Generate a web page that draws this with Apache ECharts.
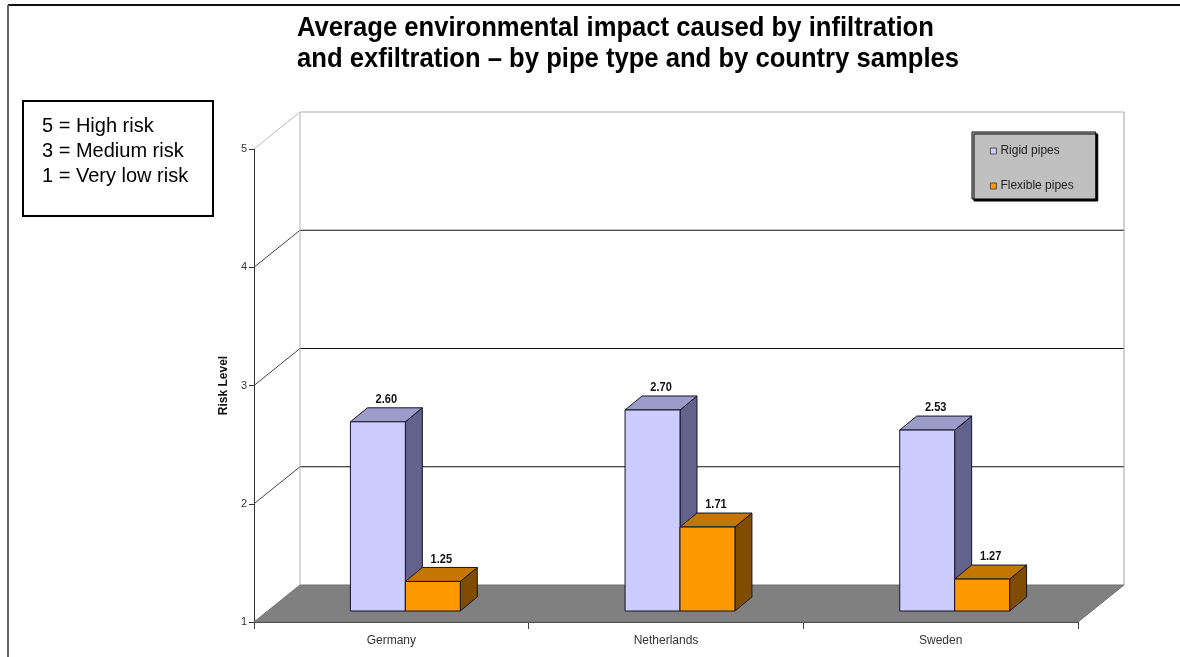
<!DOCTYPE html>
<html>
<head>
<meta charset="utf-8">
<script src="https://cdn.jsdelivr.net/npm/echarts@6/dist/echarts.min.js"></script>
<style>
  html, body { margin: 0; padding: 0; background: #fff; }
  #chart { width: 1180px; height: 657px; }
</style>
</head>
<body>
<div id="chart"></div>
<script>
// Countries on the category axis
const countries = ['Germany', 'Netherlands', 'Sweden'];
// Average risk level per pipe type
const rigidPipes = [2.60, 2.70, 2.53];
const flexiblePipes = [1.25, 1.71, 1.27];
// Risk scale ticks
const riskTicks = [1, 2, 3, 4, 5];
const titleLines = [
  'Average environmental impact caused by infiltration',
  'and exfiltration \u2013 by pipe type and by country samples'
];
const keyLines = ['5 = High risk', '3 = Medium risk', '1 = Very low risk'];

const FONT = "'Liberation Sans', Arial, Helvetica, sans-serif";
const NARROW = "'Liberation Sans Narrow', 'Liberation Sans', Arial, sans-serif";

// Oblique depth of the back wall and of the bar row
const WALL_DX = 46, WALL_DY = -37;
const ROW_DX = 14, ROW_DY = -11;
const BAR_DX = 17, BAR_DY = -14;

const chart = echarts.init(document.getElementById('chart'), null, { renderer: 'canvas' });

// Back wall, gridlines and floor of the 3D plot box
function renderWall(params, api) {
  const cs = params.coordSys;
  const v = api.value(0);
  const p = api.coord([0, v]);
  const x0 = cs.x, y = p[1];
  const bx = x0 + WALL_DX, by = y + WALL_DY;
  const children = [];
  if (v === riskTicks[0]) {
    children.push({
      type: 'polygon',
      shape: { points: [[x0, y], [x0 + cs.width, y], [bx + cs.width, by], [bx, by]] },
      style: { fill: '#808080', stroke: '#707070', lineWidth: 1 }
    });
  } else {
    const top = v === riskTicks[riskTicks.length - 1];
    children.push({
      type: 'line',
      shape: { x1: x0, y1: y, x2: bx, y2: by },
      style: { stroke: top ? '#b8b8b8' : '#444', lineWidth: 1 }
    });
    children.push({
      type: 'line',
      shape: { x1: bx, y1: by, x2: bx + cs.width, y2: by },
      style: { stroke: top ? '#b0b0b0' : '#111', lineWidth: 1 }
    });
    if (top) {
      const floorY = api.coord([0, riskTicks[0]])[1] + WALL_DY;
      children.push({
        type: 'line',
        shape: { x1: bx, y1: by, x2: bx, y2: floorY },
        style: { stroke: '#b0b0b0', lineWidth: 1 }
      });
      children.push({
        type: 'line',
        shape: { x1: bx + cs.width, y1: by, x2: bx + cs.width, y2: floorY },
        style: { stroke: '#a0a0a0', lineWidth: 1 }
      });
    }
  }
  return { type: 'group', children: children };
}

// Oblique 3D box for one bar, with its value above the top face
function makeBarRenderer(side, colors) {
  return function (params, api) {
    const c = api.value(0), v = api.value(1);
    const band = api.size([1, 0])[0];
    const bw = band * 0.2;
    const base = api.coord([c, riskTicks[0]]);
    const top = api.coord([c, v]);
    const xL = base[0] + ROW_DX + (side < 0 ? -bw : 0);
    const xR = xL + bw;
    const yB = base[1] + ROW_DY;
    const yT = top[1] + ROW_DY;
    const edge = { stroke: '#141428', lineWidth: 1 };
    return {
      type: 'group',
      children: [
        { type: 'polygon', shape: { points: [[xR, yB], [xR + BAR_DX, yB + BAR_DY], [xR + BAR_DX, yT + BAR_DY], [xR, yT]] },
          style: Object.assign({ fill: colors.side }, edge) },
        { type: 'polygon', shape: { points: [[xL, yT], [xR, yT], [xR + BAR_DX, yT + BAR_DY], [xL + BAR_DX, yT + BAR_DY]] },
          style: Object.assign({ fill: colors.top }, edge) },
        { type: 'rect', shape: { x: xL, y: yT, width: bw, height: yB - yT },
          style: Object.assign({ fill: colors.front }, edge) },
        { type: 'text', x: (xL + xR + BAR_DX) / 2, y: yT + BAR_DY - 2,
          scaleX: 0.92, scaleY: 1.05,
          style: { text: v.toFixed(2), fill: '#111', font: 'bold 12px ' + NARROW,
                   align: 'center', verticalAlign: 'bottom' } }
      ]
    };
  };
}

const rigidColors = { front: '#ccccff', top: '#9c9cc8', side: '#62628c' };
const flexColors = { front: '#ff9900', top: '#c47600', side: '#7f4c00' };

const option = {
  animation: false,
  backgroundColor: '#ffffff',
  grid: { left: 254, right: 102, top: 149, bottom: 35, containLabel: false },
  legend: {
    orient: 'vertical',
    left: 972, top: 132,
    icon: 'rect',
    itemWidth: 6, itemHeight: 6, itemGap: 23,
    padding: [13, 22, 7, 18],
    backgroundColor: '#c0c0c0',
    borderColor: '#000', borderWidth: 1,
    shadowColor: '#000', shadowOffsetX: 2, shadowOffsetY: 2, shadowBlur: 0,
    itemStyle: { borderColor: '#333', borderWidth: 0.8 },
    textStyle: { fontFamily: FONT, fontSize: 12, color: '#222', padding: [0, 0, 0, -1] },
    data: ['Rigid pipes', 'Flexible pipes']
  },
  xAxis: {
    type: 'category',
    data: countries,
    boundaryGap: true,
    axisLine: { show: true, lineStyle: { color: '#333', width: 1 } },
    axisTick: { show: true, length: 7, lineStyle: { color: '#444' } },
    axisLabel: { margin: 13, fontFamily: FONT, fontSize: 12, color: '#333' },
    splitLine: { show: false }
  },
  yAxis: {
    type: 'value',
    min: 1, max: 5, interval: 1,
    name: 'Risk Level',
    nameLocation: 'middle',
    nameGap: 23,
    nameRotate: 90,
    nameTextStyle: { fontFamily: FONT, fontSize: 12, fontWeight: 'bold', color: '#111' },
    axisLine: { show: true, lineStyle: { color: '#333', width: 1 } },
    axisTick: { show: true, length: 5, lineStyle: { color: '#333' } },
    axisLabel: { margin: 7, fontFamily: FONT, fontSize: 11, color: '#333' },
    splitLine: { show: false }
  },
  series: [
    {
      type: 'custom',
      name: 'wall',
      silent: true,
      renderItem: renderWall,
      data: riskTicks.map(t => [t]),
      encode: { y: 0 },
      z: 1
    },
    {
      type: 'custom',
      name: 'Rigid pipes',
      itemStyle: { color: rigidColors.front },
      renderItem: makeBarRenderer(-1, rigidColors),
      data: rigidPipes.map((v, i) => [i, v]),
      encode: { x: 0, y: 1 },
      z: 2
    },
    {
      type: 'custom',
      name: 'Flexible pipes',
      itemStyle: { color: flexColors.front },
      renderItem: makeBarRenderer(1, flexColors),
      data: flexiblePipes.map((v, i) => [i, v]),
      encode: { x: 0, y: 1 },
      z: 3
    }
  ],
  graphic: [
    // page frame
    { type: 'line', shape: { x1: 8, y1: 5, x2: 1180, y2: 5 }, style: { stroke: '#111', lineWidth: 2 } },
    { type: 'line', shape: { x1: 8, y1: 5, x2: 8, y2: 657 }, style: { stroke: '#666', lineWidth: 2 } },
    // title, set in a condensed bold face
    { type: 'text', x: 297, y: 13, scaleX: 0.915,
      style: { text: titleLines.join('\n'), font: 'bold 28px ' + FONT, fill: '#000', lineHeight: 31 } },
    // risk scale key
    { type: 'rect', shape: { x: 23, y: 101, width: 190, height: 115 },
      style: { fill: '#fff', stroke: '#000', lineWidth: 2 } },
    { type: 'text', left: 42, top: 114,
      style: { text: keyLines.join('\n'), font: '20px ' + FONT, fill: '#000', lineHeight: 25 } }
  ]
};

chart.setOption(option);
</script>
</body>
</html>
